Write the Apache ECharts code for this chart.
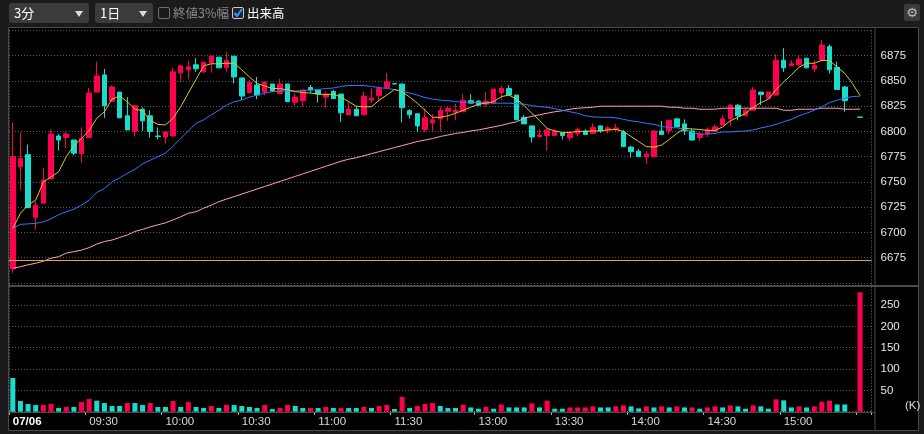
<!DOCTYPE html>
<html>
<head>
<meta charset="utf-8">
<script src="https://cdn.jsdelivr.net/npm/echarts@6/dist/echarts.min.js"></script>
<style>
body{margin:0;background:#1b1b1b;width:924px;height:434px;overflow:hidden;position:relative;font-family:"Noto Sans CJK JP",sans-serif}
#main{position:absolute;left:0;top:0;width:924px;height:434px}
.sel{position:absolute;top:3px;height:20px;background:#3b3b3b;border-radius:3px;color:#fff;font-size:13px;line-height:20px;padding-left:5px;box-sizing:border-box;z-index:5}
.sel:after{content:'';position:absolute;right:6px;top:8px;border-left:4px solid transparent;border-right:4px solid transparent;border-top:6px solid #ddd}
.cb{position:absolute;top:7px;width:12px;height:12px;border:1px solid #707070;border-radius:2px;box-sizing:border-box;z-index:5}
.lbl{position:absolute;top:3px;font-size:12.5px;line-height:20px;z-index:5}
.gear{position:absolute;left:904px;top:4px;width:16px;height:17px;background:#3a3a3a;border-radius:2px;color:#bbb;font:13px "DejaVu Sans";line-height:17px;text-align:center;z-index:5}
</style>
</head>
<body>
<div id="main"></div>
<div class="sel" style="left:9px;width:80px">3分</div>
<div class="sel" style="left:95px;width:58px">1日</div>
<div class="cb" style="left:158px"></div>
<div class="lbl" style="left:173px;color:#8a8a8a">終値3%幅</div>
<div class="cb" style="left:232px;border-color:#c8c8c8;background:#1d2430">
  <svg width="10" height="10" style="position:absolute;left:0;top:0"><polyline points="1.5,5 4,8 9,1" fill="none" stroke="#3d8fff" stroke-width="2"/></svg>
</div>
<div class="lbl" style="left:247px;color:#fff">出来高</div>
<div class="gear">&#9881;</div>
<script>
// 3分足 カテゴリ (前場 9:00-11:30, 後場 12:30-15:30, 末尾に空き1本)
var categories = [];
function hm(m){var h=Math.floor(m/60),mm=m%60;return (h<10?'0':'')+h+':'+(mm<10?'0':'')+mm;}
for(var m=540;m<=690;m+=3) categories.push(hm(m));
for(var m=750;m<=930;m+=3) categories.push(hm(m));
categories.push('');

var labelIdx  = [0,10,20,30,40,50,61,71,81,91,101];
var labelText = ['07/06','09:30','10:00','10:30','11:00','11:30','13:00','13:30','14:00','14:30','15:00'];
var tickIdx   = [0,10,20,30,40,50,61,71,81,91,101,111];
var sessionBreak = 51;
var prevClose = 6672;

// [始値, 終値, 安値, 高値]
var candles = [
 [6664,6775,6660,6809],[6765,6773,6742,6799],[6777,6724.5,6724.5,6787],[6715,6727,6703,6731],[6729,6752,6729,6764],
 [6753,6797.5,6753,6802],[6795.5,6791.5,6781,6797.5],[6794,6797.5,6783.5,6800],[6791.5,6778.5,6776.5,6791.5],[6778,6793,6769,6804],
 [6794,6838,6794,6843],[6839,6855,6839,6869],[6856,6825.5,6813.5,6862],[6830,6844,6830,6845.5],[6839,6813.5,6813.5,6839],
 [6815.5,6801.5,6801.5,6834],[6800.5,6825.5,6795,6826],[6822,6810.5,6800.5,6824],[6815.5,6800,6794,6821],[6795.5,6795,6792,6804],
 [6794.5,6799.5,6788,6799.5],[6795.5,6859,6795,6863],[6858,6865,6848.5,6866],[6861,6864,6851.5,6870],[6866,6862,6859,6872.5],
 [6859,6868.5,6858,6869],[6868,6874.5,6858,6875],[6873.5,6863,6863,6873.5],[6863,6870.5,6859,6878.5],[6874.5,6854,6847.5,6874.5],
 [6853,6835,6831,6853],[6838.5,6848.5,6838.5,6851],[6846,6836,6832,6854],[6839,6849,6836,6849.5],[6847,6840,6839,6847],
 [6837.5,6847,6837.5,6852],[6847,6829.5,6829.5,6847],[6829,6834,6825.5,6838],[6830.5,6841,6824.5,6842],[6843.5,6841,6838,6846],
 [6841,6837,6828.5,6841],[6834,6837,6823.5,6839.5],[6839.5,6832.5,6832.5,6841],[6837,6818.5,6809.5,6837],[6816.5,6822,6816.5,6829],
 [6822,6815.5,6815.5,6825],[6816.5,6835,6816.5,6839.5],[6831,6833,6828,6842.5],[6835.5,6842.5,6830,6844.5],[6843.5,6849,6843.5,6858],
 [6847.3,6847,6847,6847.3],
 [6847,6823.5,6809,6847],[6820.5,6816.5,6812.5,6822],[6817.5,6805.5,6799.5,6817.5],[6802,6813.5,6799.5,6823],[6808.5,6811.5,6799.5,6817],
 [6812.5,6821,6800,6824.5],[6820,6823,6810.5,6824.5],[6819,6821,6811,6827.5],[6819.5,6831,6819.5,6837],[6830.5,6828,6828,6837],
 [6830,6826,6825,6831],[6827,6830,6824.5,6839],[6828,6842,6828,6842],[6838.5,6842.5,6831,6845.5],[6842.5,6836,6836,6846],
 [6836,6811.5,6811.5,6836],[6814,6807.5,6807.5,6816],[6805.5,6794.5,6789,6805.5],[6795,6796.5,6795,6802.5],[6796,6801.5,6781,6803],
 [6796,6800.5,6796,6802],[6798.5,6796,6792,6798.5],[6794,6798,6790.5,6800.5],[6798,6802,6795,6804],[6800.5,6797,6797,6802],
 [6798,6804,6798,6808],[6805.5,6800.5,6798.5,6805.5],[6801.5,6803.5,6798,6805.5],[6802,6803.5,6799.5,6807.5],[6799.5,6785,6785,6801.5],
 [6784.5,6780,6774,6786],[6780.5,6775,6775,6782.5],[6775,6777.5,6768,6780.5],[6775,6800.5,6775,6800.5],[6800.5,6797,6797,6810.5],
 [6801,6811,6797,6811],[6812.5,6804.5,6804.5,6812.5],[6807.5,6800.5,6796.5,6812],[6800.5,6791.5,6791.5,6802.5],[6794,6797.5,6791,6799.5],
 [6797.5,6802,6794.5,6804],[6800,6804.5,6800,6807],[6806.5,6812.5,6806.5,6816],[6812.5,6826,6805.5,6827],[6826,6815.5,6811,6827],
 [6815.5,6821,6815.5,6823],[6821,6841,6821,6844],[6839,6836.5,6826,6839],[6833,6839,6833,6839],[6836,6870.5,6835.5,6876.5],
 [6870.5,6863,6859,6882.5],[6865,6867,6865,6870.5],[6866,6871.5,6864.5,6875.5],[6872.5,6863,6863,6872.5],[6862,6865.5,6859,6870.5],
 [6870.5,6885.5,6870.5,6890.5],[6884,6861,6857.5,6886],[6863.5,6841.5,6841.5,6869],[6844,6830.5,6819.5,6845],
 ['-','-','-','-'],
 [6814.3,6814,6814,6814.3]
];

var ma5 = [
 6704,6719,6727,6732,6750,6755,6760,6775,6786,6793,
 6801,6813,6819.5,6832,6835,6829.5,6822,6820.5,6811,6807,
 6806.5,6813,6824.5,6838,6851.5,6865,6867,6867,6867.5,6867.5,
 6861,6854,6847.5,6845,6842.5,6842.5,6841,6839.5,6838.5,6838,
 6837,6836.5,6837,6834,6829.5,6825,6824.5,6824.5,6831,6836,
 6841.5,6839.5,6834,6828,6821,6814,6814,6815.5,6818,6821,
 6824,6827,6828,6829.5,6834.5,6836,6832,6825.5,6818,6811,
 6803,6800.5,6799,6799,6800,6800,6800.5,6800.5,6801.5,6802,
 6800,6795,6790,6785,6784.5,6786.5,6792,6798,6803,6802.5,
 6802,6801,6801,6804.5,6810.5,6814,6818,6824,6828.5,6832,
 6841.5,6849,6856,6863.5,6867.5,6867.5,6870.5,6870,6864,6857.5,6847.5,6835.5
];
var ma25 = [
 6704,6708,6708.5,6709,6710.5,6713.5,6717.5,6720.5,6723,6727,
 6732,6739.5,6743.5,6750,6754,6758.5,6762.5,6768,6771.5,6775,
 6778.5,6785.5,6793,6800.5,6808,6811.5,6816.5,6821,6826,6829.5,
 6831,6834,6836,6838,6839.5,6840,6840,6840,6840.5,6841,
 6841.5,6842.5,6843,6844.5,6845.5,6845.5,6845.5,6844.5,6843.5,6842.5,
 6841.5,6839.5,6838,6836,6833.5,6832,6831,6830.5,6829.5,6829,
 6829,6828.5,6828.5,6828,6828,6828,6827.5,6827,6825.5,6824.5,
 6824,6822.5,6821,6819.5,6818,6815.5,6814.5,6814,6814,6813.5,
 6812,6810.5,6809.5,6808,6807,6805,6804,6803.5,6802.5,6799,
 6797.5,6797.5,6798,6799.5,6799.5,6800,6800.5,6801.5,6803.5,6805,
 6807,6809.5,6812,6815.5,6818,6821,6824.5,6828.5,6831,6833,6834.5,6835
];
var ma75 = [
 6664.5,6666,6668,6669.5,6671.5,6674.5,6676,6679.5,6681,6682.5,
 6685,6688.5,6691,6692.5,6695,6697.5,6701,6703,6705.5,6707.5,
 6709.5,6712.5,6715.5,6719,6720.5,6724,6727,6730.5,6733,6735.5,
 6738,6740.5,6743,6745.5,6748,6750.5,6753,6755.5,6758,6760.5,
 6763,6765.5,6768,6770.5,6772.5,6774,6776,6778,6780,6782,
 6784,6786,6788,6790,6791.5,6793,6795,6796.5,6798,6799,
 6800.5,6801.5,6803,6804.5,6806,6808,6809.5,6813,6815,6816.5,
 6818,6819.5,6820.5,6822,6823,6823.5,6824,6825,6825,6825,
 6825,6825,6825,6825,6825,6825,6824,6824,6823,6823,
 6822,6822,6822,6823,6823,6823,6823,6823,6823,6823,
 6823,6821,6821,6822,6822,6822,6823,6823,6823,6822,6822,6822
];

// 出来高 (K)
var volume = [
 79,25,18,15.6,15.6,18,8.6,11,11,22.6,
 29.7,25.8,20.3,13.3,13.3,20.3,20.3,15.6,20.3,11,
 11,25,11,22.6,11,8.6,13.3,8.6,15.6,15.6,
 13.3,11,8.6,15.6,6.2,8.6,15.6,13.3,8.6,8.6,
 8.6,11,8.6,8.6,8.6,8.6,11,8.6,13.3,15.6,
 6.2,34.4,8.6,13.3,18,20.3,13.3,8.6,8.6,16,
 10,7,11.7,7,17,10,10,10,19.5,10,
 25.8,7,7,10,10,10,12.5,10,10,12.5,
 14.8,12.5,7.8,12.5,10,12.5,10,12.5,10,10,
 7,10,12.5,10,14.8,12.5,7,14.8,12.5,7,
 28.9,26.6,10,12.5,10,12.5,23.4,25.8,17,17,'-',280
];
// 1 = 赤, -1 = 青緑
var volDir = [
 -1,-1,-1,-1,1,1,-1,1,-1,1,
 1,-1,-1,-1,-1,1,-1,-1,1,-1,
 -1,1,-1,1,-1,-1,1,-1,1,-1,
 -1,-1,-1,1,-1,1,1,-1,-1,1,
 -1,1,-1,1,-1,-1,1,-1,1,1,
 -1,1,-1,1,1,1,-1,-1,-1,1,
 -1,-1,1,-1,1,-1,-1,-1,1,-1,
 1,-1,-1,1,1,1,1,-1,-1,1,
 1,-1,-1,1,-1,1,-1,1,-1,1,
 -1,1,1,-1,1,-1,-1,1,-1,-1,
 1,-1,-1,1,-1,1,1,1,-1,-1,0,1
];

var UP = '#ff0050', DN = '#19dccd';
var FONT = '"Liberation Sans", Arial, sans-serif';
var FRAME = '#4a4a4a';

var myChart = echarts.init(document.getElementById('main'));

var option = {
    animation: false,
    backgroundColor: '#000',
    grid: [
        {left: 9, top: 30.45, width: 862.5, height: 252.5},
        {left: 9, top: 283.7, width: 862.5, height: 128}
    ],
    xAxis: [
        {
            type: 'category', gridIndex: 0, data: categories, boundaryGap: true,
            axisLine: {show: false}, axisTick: {show: false}, axisLabel: {show: false},
            splitLine: {show: true, interval: function (i) { return i === sessionBreak; }, lineStyle: {color: '#707070', type: [1, 2]}}
        },
        {
            type: 'category', gridIndex: 1, data: categories, boundaryGap: true,
            axisLine: {show: false},
            axisTick: {show: true, length: 3, interval: function (i) { return tickIdx.indexOf(i) >= 0; }, lineStyle: {color: '#dddddd'}},
            axisLabel: {
                show: true, align: 'left', margin: 4, color: '#d8d8d8', fontSize: 11.5, fontFamily: FONT,
                interval: function (i) { return labelIdx.indexOf(i) >= 0; },
                formatter: function (v, i) {
                    var k = labelIdx.indexOf(i);
                    if (k < 0) return '';
                    return k === 0 ? '{b|' + labelText[k] + '}' : labelText[k];
                },
                rich: {b: {fontWeight: 'bold', color: '#ffffff', fontSize: 11.5, fontFamily: FONT}}
            },
            splitLine: {show: true, interval: function (i) { return i === sessionBreak; }, lineStyle: {color: '#707070', type: [1, 2]}}
        }
    ],
    yAxis: [
        {
            type: 'value', gridIndex: 0, position: 'right', min: 6650, max: 6900, interval: 25,
            axisLine: {show: false}, axisTick: {show: false},
            axisLabel: {color: '#e6e6e6', fontSize: 11.5, fontFamily: FONT, margin: 9, showMinLabel: false, showMaxLabel: false,
                formatter: function (v) { return String(v); }},
            splitLine: {lineStyle: {color: '#5a5a5a', type: [1, 2]}}
        },
        {
            type: 'value', gridIndex: 1, position: 'right', min: 0, max: 300, interval: 50,
            axisLine: {show: false}, axisTick: {show: false},
            axisLabel: {color: '#e6e6e6', fontSize: 11.5, fontFamily: FONT, margin: 9, showMinLabel: false, showMaxLabel: false,
                formatter: function (v) { return String(v); }},
            splitLine: {lineStyle: {color: '#5a5a5a', type: [1, 2]}}
        }
    ],
    series: [
        {
            type: 'candlestick', xAxisIndex: 0, yAxisIndex: 0, data: candles, barWidth: 5,
            itemStyle: {color: UP, color0: DN, borderColor: UP, borderColor0: DN, borderWidth: 1},
            markLine: {
                silent: true, symbol: ['none', 'none'], label: {show: false},
                lineStyle: {color: '#dcaa32', type: 'solid', width: 1},
                data: [{yAxis: prevClose}]
            }
        },
        {type: 'line', xAxisIndex: 0, yAxisIndex: 0, data: ma75, symbol: 'none', lineStyle: {color: '#ffa0b9', width: 1}},
        {type: 'line', xAxisIndex: 0, yAxisIndex: 0, data: ma25, symbol: 'none', lineStyle: {color: '#3278ff', width: 1}},
        {type: 'line', xAxisIndex: 0, yAxisIndex: 0, data: ma5, symbol: 'none', lineStyle: {color: '#dcc81e', width: 1}},
        {
            type: 'bar', xAxisIndex: 1, yAxisIndex: 1, barWidth: 5,
            data: volume.map(function (v, i) {
                return {value: v, itemStyle: {color: volDir[i] > 0 ? UP : DN}};
            })
        }
    ],
    graphic: [
        {type: 'rect', silent: true, shape: {x: 0, y: 0, width: 924, height: 27}, style: {fill: '#1b1b1b'}},
        {type: 'rect', silent: true, shape: {x: 0, y: 0, width: 8, height: 434}, style: {fill: '#1b1b1b'}},
        {type: 'rect', silent: true, shape: {x: 919, y: 0, width: 5, height: 434}, style: {fill: '#1b1b1b'}},
        {type: 'rect', silent: true, shape: {x: 0, y: 431, width: 924, height: 3}, style: {fill: '#1b1b1b'}},
        {type: 'rect', silent: true, z: 100, shape: {x: 8.5, y: 27.5, width: 910, height: 403}, style: {fill: null, stroke: FRAME, lineWidth: 1}},
        {type: 'line', silent: true, z: 100, shape: {x1: 8.5, y1: 286, x2: 918.5, y2: 286}, style: {stroke: FRAME, lineWidth: 2}},
        {type: 'line', silent: true, z: 100, shape: {x1: 875, y1: 27.5, x2: 875, y2: 430.5}, style: {stroke: FRAME, lineWidth: 1}},
        {type: 'line', silent: true, z: 100, shape: {x1: 8.5, y1: 412.5, x2: 875, y2: 412.5}, style: {stroke: FRAME, lineWidth: 1}},
        {type: 'text', silent: true, z: 100, x: 905, y: 400, style: {text: '(K)', fill: '#dddddd', font: '11.5px ' + FONT}}
    ]
};

myChart.setOption(option);
</script>
</body>
</html>
